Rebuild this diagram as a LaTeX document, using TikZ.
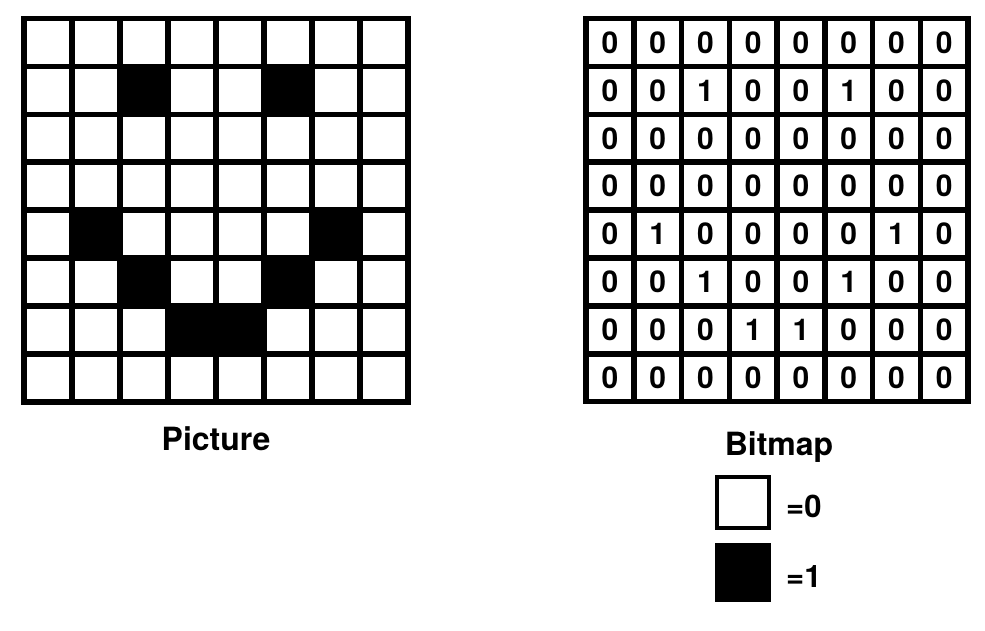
\documentclass[tikz,border=0pt]{standalone}
\usepackage{fontspec}
\setmainfont{TeX Gyre Heros}
\begin{document}
\begin{tikzpicture}[x=1pt,y=-1pt,
        cell/.style={draw, line width=5.5pt, minimum size=48pt, inner sep=0pt, outer sep=0pt},
        bitcell/.style={draw, line width=5.5pt, minimum size=47.75pt, inner sep=0pt, outer sep=0pt, font=\fontsize{30}{30}\selectfont\bfseries},
        caption/.style={anchor=base, font=\fontsize{32}{32}\selectfont\bfseries},
        keybox/.style={draw, line width=4.5pt, minimum width=52pt, inner sep=0pt},
        keytext/.style={anchor=base west, inner sep=0pt, font=\fontsize{31}{31}\selectfont\bfseries}]
            \useasboundingbox (0,0) rectangle (985,630);

            % picture (left) and bitmap (right)
            \foreach \r/\bits in {1/{0,0,0,0,0,0,0,0}, 2/{0,0,1,0,0,1,0,0}, 3/{0,0,0,0,0,0,0,0}, 4/{0,0,0,0,0,0,0,0},
                                  5/{0,1,0,0,0,0,1,0}, 6/{0,0,1,0,0,1,0,0}, 7/{0,0,0,1,1,0,0,0}, 8/{0,0,0,0,0,0,0,0}} {
                \foreach \b [count=\c] in \bits {
                    \ifnum\b=1 \def\shade{black}\else\def\shade{white}\fi
                    \node[cell, fill=\shade] (pic-\r-\c) at ({48+48*(\c-1)}, {42.5+47.9*(\r-1)}) {};
                    \node[bitcell] (bit-\r-\c) at ({609.9+47.75*(\c-1)}, {42.5+47.9*(\r-1)}) {\b};
                }
            }

            \node[caption] (piclabel) at (216,450) {Picture};
            \node[caption] (bitlabel) at (779,455) {Bitmap};

            % key
            \node[keybox, minimum height=51pt, fill=white] (zerobox) at (743,502.5) {};
            \node[keybox, minimum height=55pt, fill=black] (onebox) at (743,572.5) {};
            \node[keytext] (zerotext) at (786,517) {=0};
            \node[keytext] (onetext) at (786,587) {=1};
        \end{tikzpicture}
\end{document}
